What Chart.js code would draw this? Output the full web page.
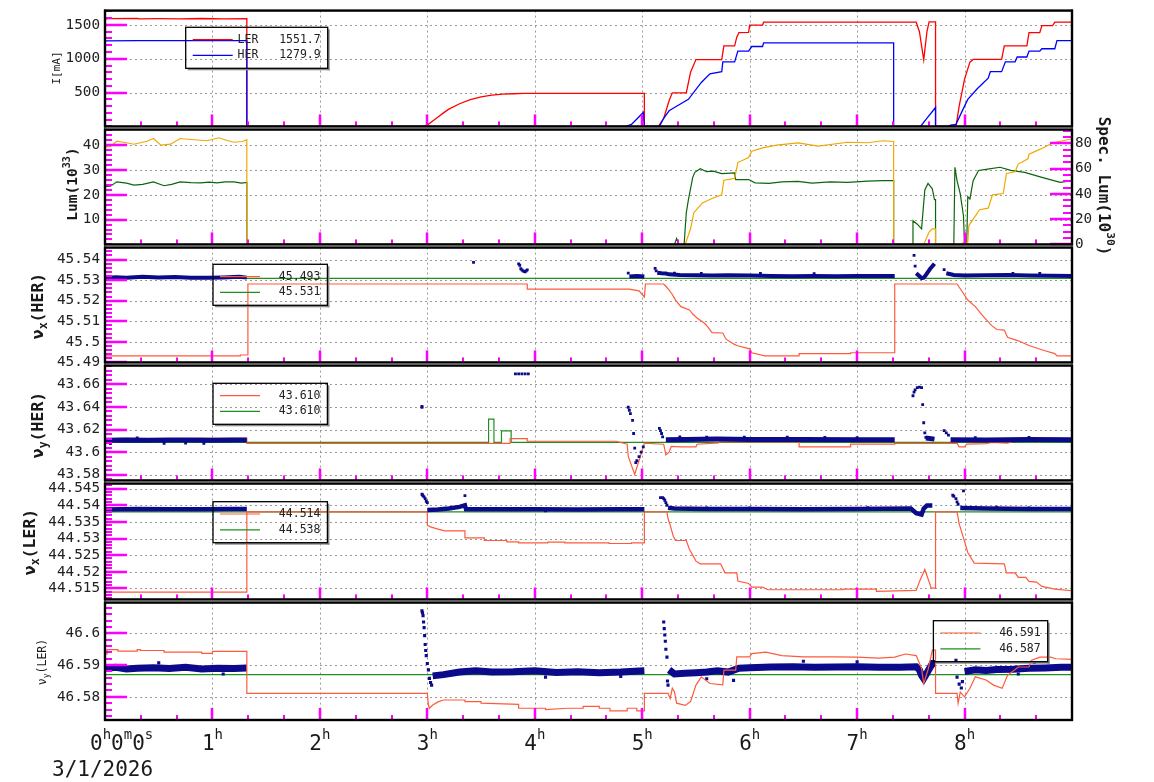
<!DOCTYPE html>
<html><head><meta charset="utf-8">
<script src="https://cdn.jsdelivr.net/npm/chart.js@4.4.1/dist/chart.umd.min.js"></script>
<style>
html,body{margin:0;padding:0;background:#fff;width:1154px;height:782px;overflow:hidden;}
canvas{position:absolute;left:0;}
#ov{top:0;pointer-events:none;}
</style></head><body>
<canvas id="c1"></canvas><canvas id="c2"></canvas><canvas id="c3"></canvas>
<canvas id="c4"></canvas><canvas id="c5"></canvas><canvas id="c6"></canvas>
<canvas id="ov" width="1154" height="782"></canvas>
<script>
// ================= DATA (time in hours, value) =================
const lerCurrent = [[0,1585],[0.03,1594],[0.3,1595],[0.32,1588],[0.5,1592],[0.7,1590],[0.9,1595],[1.1,1590],[1.32,1592],[1.32,0],[2.96,0],[3.0,20],[3.05,80],[3.1,140],[3.15,200],[3.2,255],[3.3,335],[3.4,395],[3.5,437],[3.6,462],[3.7,476],[3.8,483],[3.9,487],[4.2,488],[5.02,488],[5.02,0],[5.15,0],[5.2,120],[5.25,380],[5.28,497],[5.41,497],[5.45,800],[5.5,988],[5.74,988],[5.76,1190],[5.86,1190],[5.88,1320],[5.9,1387],[5.99,1390],[6.0,1498],[6.12,1498],[6.13,1540],[7.55,1540],[7.58,1400],[7.62,985],[7.65,1400],[7.67,1545],[7.73,1545],[7.73,0],[7.92,0],[7.95,300],[8.0,700],[8.05,950],[8.08,990],[8.345,990],[8.37,1190],[8.58,1190],[8.6,1387],[8.7,1387],[8.72,1490],[8.82,1490],[8.84,1540],[9.0,1540]];
const herCurrent = [[0,1265],[0.3,1268],[0.6,1267],[1.0,1268],[1.32,1267],[1.32,0],[4.85,0],[4.9,30],[4.95,110],[5.0,190],[5.01,208],[5.02,0],[5.16,0],[5.2,120],[5.25,231],[5.3,280],[5.43,400],[5.55,650],[5.63,776],[5.74,809],[5.75,954],[5.86,954],[5.89,1113],[5.99,1113],[6.02,1181],[6.12,1181],[6.13,1234],[7.34,1234],[7.34,0],[7.59,0],[7.66,140],[7.73,280],[7.73,0],[7.85,0],[7.87,20],[7.92,30],[7.97,200],[8.03,400],[8.12,560],[8.22,713],[8.24,809],[8.345,809],[8.38,954],[8.47,954],[8.49,1026],[8.58,1026],[8.6,1113],[8.7,1113],[8.72,1148],[8.84,1148],[8.86,1267],[9.0,1267]];
const lumValues = [[0,39.2],[0.05,39.5],[0.11,41.6],[0.2,41],[0.27,40.4],[0.33,41],[0.39,41.6],[0.45,42.7],[0.52,40],[0.61,40.4],[0.7,42.7],[0.83,42.2],[0.95,41.8],[1.06,43],[1.13,42],[1.2,41.2],[1.28,41.5],[1.32,42.2],[1.32,0],[5.4,0],[5.45,6.3],[5.48,12.8],[5.56,16.7],[5.66,18.7],[5.74,20],[5.76,25.9],[5.86,26.6],[5.89,33],[5.99,35],[6.02,37.6],[6.12,38.9],[6.25,40],[6.45,40.9],[6.64,39.6],[6.91,41.2],[7.1,41],[7.24,41.8],[7.34,41.5],[7.34,0],[7.62,0],[7.67,5],[7.7,6.3],[7.73,6.3],[7.73,0],[7.97,0],[7.99,0.8],[8.03,0.8],[8.04,7.6],[8.14,14],[8.22,14.6],[8.26,20],[8.36,20.5],[8.39,28.6],[8.47,29.3],[8.5,32.4],[8.59,34.5],[8.6,36.4],[8.7,38.3],[8.82,40.9],[9.0,42.6]];
const specLumValues = [[0,45.6],[0.05,46],[0.11,49.5],[0.2,48.5],[0.27,46.9],[0.35,47.5],[0.45,49.5],[0.55,46.4],[0.62,47.5],[0.7,49.5],[0.8,48.8],[0.89,48.7],[0.97,49.2],[1.04,48.7],[1.12,49.5],[1.2,49.5],[1.27,48.5],[1.32,49],[1.32,0],[5.3,0],[5.32,4.6],[5.34,0],[5.39,0],[5.41,25],[5.43,35.4],[5.47,53],[5.49,57],[5.54,59.8],[5.6,57.5],[5.66,58],[5.74,56],[5.86,56.5],[5.87,51.3],[5.99,51.3],[6.05,48.7],[6.18,48.2],[6.3,49.5],[6.45,49.9],[6.58,48.5],[6.75,49.5],[6.91,49],[7.1,50],[7.24,50.4],[7.34,50.4],[7.34,0],[7.52,0],[7.52,18.7],[7.56,16],[7.6,12.3],[7.63,43],[7.66,48.2],[7.7,44],[7.72,35.4],[7.73,35.4],[7.73,0],[7.9,0],[7.91,61],[7.93,50.4],[7.96,40],[7.99,22.5],[8.0,0],[8.02,0],[8.03,37.7],[8.05,36],[8.08,50.4],[8.13,58.5],[8.23,59.8],[8.33,61],[8.43,58.5],[8.56,57],[8.72,53],[8.89,49],[9.0,50.4]];
const nuxHerSet = [[0,45.5308],[9,45.5308]];
const nuxHerRed = [[0,45.4932],[1.26,45.4932],[1.26,45.4936],[1.33,45.4936],[1.33,45.5281],[3.93,45.5281],[3.93,45.5256],[4.88,45.5256],[4.97,45.5248],[5.02,45.5218],[5.03,45.5281],[5.2,45.5281],[5.22,45.527],[5.24,45.5258],[5.28,45.523],[5.31,45.5203],[5.36,45.5171],[5.44,45.5155],[5.47,45.5135],[5.51,45.5116],[5.58,45.509],[5.61,45.5073],[5.65,45.5045],[5.75,45.5043],[5.78,45.5013],[5.85,45.499],[5.88,45.4982],[6.0,45.4966],[6.02,45.4947],[6.14,45.4932],[6.46,45.4932],[6.46,45.4943],[6.94,45.4943],[6.94,45.4947],[7.35,45.4947],[7.35,45.5281],[7.93,45.5281],[7.96,45.5258],[8.03,45.5203],[8.1,45.5171],[8.16,45.5132],[8.25,45.508],[8.3,45.506],[8.37,45.5057],[8.4,45.5022],[8.5,45.5005],[8.6,45.4982],[8.74,45.4958],[8.84,45.4943],[8.86,45.4932],[9.0,45.4932]];
const nuxHerBand = [
  [[0,45.531],[0.1,45.5314],[0.2,45.5312],[0.35,45.5316],[0.5,45.5313],[0.65,45.5315],[0.8,45.5312],[0.95,45.5311],[1.1,45.5313],[1.25,45.5316],[1.32,45.5312]],
  [[4.88,45.5318],[4.95,45.532],[5.02,45.5318]],
  [[5.14,45.5336],[5.18,45.5333],[5.22,45.5332],[5.25,45.5328],[5.35,45.5325],[5.5,45.5323],[5.65,45.5322],[5.8,45.5323],[6.0,45.5322],[6.2,45.532],[6.4,45.5319],[6.6,45.532],[6.8,45.5319],[7.0,45.532],[7.2,45.532],[7.35,45.532]],
  [[7.55,45.5333],[7.6,45.531],[7.62,45.5312],[7.64,45.5325],[7.66,45.534],[7.68,45.5355],[7.7,45.5367],[7.72,45.538]],
  [[7.83,45.5333],[7.9,45.5325],[8.0,45.5322],[8.2,45.5323],[8.4,45.5325],[8.6,45.5322],[8.8,45.5321],[9.0,45.532]]
];
const nuxHerDots = [[3.43,45.5386],[3.85,45.5379],[3.86,45.5372],[3.87,45.5355],[3.88,45.535],[3.89,45.5345],[3.9,45.5342],[3.91,45.534],[3.92,45.5345],[3.93,45.535],[4.87,45.5334],[5.12,45.5357],[5.13,45.5345],[7.53,45.542],[7.54,45.5368],[7.81,45.5351],[5.3,45.5334],[5.55,45.5333],[6.1,45.5333],[6.6,45.5331],[8.45,45.5333],[8.7,45.5332]];
const nuyHerSet = [[0,43.6087],[3.57,43.6087],[3.57,43.6292],[3.62,43.6292],[3.62,43.6087],[3.69,43.6087],[3.69,43.6188],[3.78,43.6188],[3.78,43.6087],[9,43.6087]];
const nuyHerRed = [[0,43.6087],[0.11,43.6087],[0.11,43.6122],[0.31,43.6122],[0.31,43.611],[0.85,43.611],[0.85,43.6122],[1.32,43.6122],[1.32,43.6078],[3.77,43.6078],[3.77,43.612],[3.93,43.612],[3.93,43.6096],[4.76,43.6096],[4.8,43.6085],[4.86,43.607],[4.87,43.5962],[4.93,43.5803],[4.98,43.5955],[5.02,43.608],[5.2,43.607],[5.22,43.5975],[5.25,43.6],[5.27,43.605],[5.36,43.6046],[5.5,43.6046],[5.51,43.607],[5.71,43.6082],[5.72,43.609],[6.46,43.609],[6.46,43.6046],[6.94,43.6046],[6.94,43.607],[7.35,43.607],[7.35,43.6078],[7.93,43.6078],[7.95,43.6046],[8.0,43.6046],[8.02,43.607],[8.2,43.6075],[8.25,43.6085],[8.4,43.608],[8.45,43.6095],[8.55,43.6095],[8.6,43.6105],[8.7,43.609],[8.75,43.611],[8.85,43.61],[8.9,43.6105],[9,43.6095]];
const nuyHerBand = [
  [[0,43.6105],[0.2,43.6108],[0.4,43.6106],[0.6,43.6108],[0.8,43.6107],[1.0,43.6106],[1.2,43.6108],[1.32,43.6108]],
  [[5.22,43.611],[5.4,43.6112],[5.7,43.6115],[6.0,43.6112],[6.5,43.6112],[7.0,43.611],[7.35,43.611]],
  [[7.64,43.6125],[7.72,43.6115]],
  [[7.87,43.611],[8.2,43.6108],[8.6,43.6112],[9.0,43.611]]
];
const nuyHerDots = [[0.05,43.6075],[0.3,43.6125],[0.55,43.6078],[0.75,43.608],[0.92,43.6078],[2.95,43.6403],[2.95,43.6395],[3.82,43.6692],[3.85,43.6692],[3.88,43.6692],[3.91,43.6692],[3.94,43.6692],[4.87,43.6397],[4.88,43.637],[4.89,43.634],[4.91,43.628],[4.92,43.6165],[4.93,43.6035],[4.94,43.5907],[4.95,43.5925],[4.97,43.596],[4.99,43.6],[5.01,43.6046],[5.16,43.621],[5.17,43.619],[5.18,43.6165],[5.19,43.6135],[7.52,43.6498],[7.53,43.653],[7.54,43.655],[7.56,43.657],[7.58,43.6575],[7.6,43.657],[7.61,43.642],[7.62,43.626],[7.63,43.617],[7.64,43.613],[7.81,43.619],[7.83,43.617],[7.85,43.615],[5.35,43.6135],[5.6,43.6132],[5.95,43.6133],[6.35,43.6132],[6.7,43.613],[7.0,43.6128],[8.1,43.6128],[8.6,43.613]];
const nuxLerSet = [[0,44.538],[9,44.538]];
const nuxLerRed = [[0,44.5139],[1.32,44.5139],[1.32,44.538],[3.0,44.538],[3.0,44.534],[3.03,44.5335],[3.1,44.5328],[3.16,44.5323],[3.35,44.5323],[3.35,44.5302],[3.53,44.5302],[3.53,44.5294],[3.74,44.5294],[3.74,44.529],[3.85,44.529],[3.85,44.5287],[4.12,44.5287],[4.12,44.5289],[4.28,44.5289],[4.28,44.5287],[4.69,44.5287],[4.69,44.5285],[4.9,44.5285],[4.9,44.5287],[5.02,44.5287],[5.02,44.538],[5.23,44.538],[5.24,44.536],[5.26,44.534],[5.29,44.5306],[5.31,44.5294],[5.41,44.5294],[5.44,44.5267],[5.47,44.525],[5.5,44.5232],[5.54,44.5224],[5.73,44.5224],[5.77,44.5197],[5.88,44.5197],[5.89,44.5172],[5.99,44.5165],[6.02,44.5154],[6.12,44.5154],[6.17,44.5146],[6.87,44.5146],[6.87,44.5148],[7.18,44.5148],[7.18,44.5141],[7.55,44.5144],[7.58,44.517],[7.63,44.5207],[7.67,44.517],[7.69,44.5151],[7.73,44.5151],[7.73,44.538],[7.93,44.538],[7.95,44.5344],[7.99,44.5302],[8.03,44.5258],[8.09,44.5226],[8.37,44.5224],[8.39,44.5197],[8.47,44.5197],[8.5,44.5183],[8.57,44.5183],[8.6,44.5171],[8.67,44.5169],[8.72,44.5156],[8.84,44.5148],[9.0,44.5143]];
const nuxLerBand = [
  [[0,44.5387],[0.3,44.5389],[0.6,44.5388],[0.9,44.5388],[1.2,44.5389],[1.32,44.5389]],
  [[3.0,44.5386],[3.1,44.5387],[3.2,44.539],[3.3,44.5395],[3.35,44.54],[3.36,44.5388],[3.6,44.5388],[4.0,44.5388],[4.4,44.5387],[4.8,44.5388],[5.02,44.5388]],
  [[5.24,44.5392],[5.3,44.539],[5.6,44.5389],[6.0,44.5389],[6.5,44.5388],[7.0,44.5389],[7.5,44.539],[7.55,44.5376],[7.6,44.5372],[7.62,44.539],[7.65,44.5399],[7.7,44.5399]],
  [[7.96,44.5392],[8.2,44.539],[8.6,44.5389],[9.0,44.5389]]
];
const nuxLerDots = [[2.95,44.5433],[2.955,44.5431],[2.96,44.5428],[2.97,44.5425],[2.98,44.542],[2.99,44.5412],[3.0,44.5408],[3.35,44.5429],[5.17,44.5423],[5.19,44.5423],[5.2,44.542],[5.21,44.5415],[5.22,44.5408],[5.23,44.54],[7.89,44.543],[7.9,44.5427],[7.92,44.542],[7.93,44.541],[7.94,44.5403],[7.99,44.5443],[4.1,44.5383],[5.6,44.5392],[6.0,44.5392],[7.1,44.5393],[8.3,44.5394],[8.6,44.5392]];
const nuyLerSet = [[0,46.587],[9,46.587]];
const nuyLerRed = [[0,46.5935],[0.02,46.5935],[0.02,46.5949],[0.12,46.5949],[0.12,46.5944],[0.3,46.5944],[0.3,46.5949],[0.33,46.5949],[0.33,46.5946],[0.55,46.5946],[0.55,46.5941],[0.9,46.5941],[0.9,46.5937],[1.0,46.5937],[1.0,46.5943],[1.32,46.5943],[1.32,46.5811],[3.0,46.5811],[3.01,46.5775],[3.02,46.5764],[3.05,46.5774],[3.1,46.5784],[3.15,46.579],[3.35,46.579],[3.35,46.5785],[3.5,46.5785],[3.5,46.578],[3.85,46.5776],[3.85,46.5764],[4.1,46.5764],[4.1,46.576],[4.3,46.5764],[4.45,46.5764],[4.45,46.577],[4.6,46.577],[4.6,46.5764],[4.7,46.5764],[4.7,46.5756],[4.86,46.5756],[4.86,46.5764],[4.95,46.5764],[4.95,46.5756],[5.02,46.5756],[5.02,46.5811],[5.24,46.5811],[5.26,46.5795],[5.28,46.5827],[5.3,46.5815],[5.32,46.578],[5.4,46.5773],[5.45,46.5785],[5.5,46.5837],[5.55,46.5863],[5.58,46.5855],[5.63,46.5842],[5.75,46.5838],[5.76,46.5884],[5.87,46.5884],[5.88,46.5926],[6.0,46.5926],[6.02,46.5936],[6.15,46.5941],[6.3,46.593],[6.5,46.5926],[6.8,46.5926],[7.0,46.5925],[7.2,46.5922],[7.35,46.5925],[7.45,46.5935],[7.55,46.593],[7.6,46.5889],[7.62,46.5842],[7.66,46.5885],[7.7,46.5947],[7.73,46.5947],[7.73,46.5811],[7.93,46.5811],[7.94,46.578],[7.96,46.5815],[8.0,46.58],[8.05,46.5827],[8.1,46.5863],[8.2,46.5853],[8.27,46.5837],[8.35,46.5827],[8.4,46.5868],[8.5,46.5894],[8.6,46.5894],[8.62,46.5915],[8.7,46.5925],[8.8,46.5925],[8.85,46.592],[9.0,46.5918]];
const nuyLerBand = [
  [[0,46.5889],[0.1,46.5893],[0.2,46.5888],[0.3,46.589],[0.45,46.5892],[0.6,46.5889],[0.75,46.5893],[0.9,46.5888],[1.05,46.589],[1.2,46.5889],[1.32,46.5891]],
  [[3.05,46.5866],[3.15,46.587],[3.3,46.5878],[3.45,46.5882],[3.6,46.5878],[3.8,46.5879],[4.0,46.5882],[4.2,46.5877],[4.4,46.5879],[4.6,46.5876],[4.8,46.5878],[5.02,46.5882]],
  [[5.25,46.5885],[5.3,46.5872],[5.4,46.5874],[5.5,46.5876],[5.6,46.5878],[5.7,46.5882],[5.8,46.5878],[5.9,46.589],[6.0,46.5892],[6.2,46.5894],[6.4,46.5895],[6.6,46.5893],[6.8,46.5894],[7.0,46.5895],[7.2,46.5893],[7.4,46.5893],[7.55,46.5895],[7.58,46.5885],[7.6,46.5868],[7.62,46.5858],[7.65,46.5875],[7.7,46.5905],[7.73,46.5905]],
  [[8.0,46.588],[8.1,46.5885],[8.2,46.5883],[8.3,46.5886],[8.45,46.5887],[8.6,46.589],[8.75,46.5891],[8.9,46.5893],[9.0,46.5893]]
];
const nuyLerDots = [[2.95,46.6071],[2.955,46.6065],[2.96,46.6056],[2.965,46.6036],[2.97,46.6018],[2.975,46.5993],[2.98,46.5965],[2.985,46.5946],[2.99,46.593],[3.0,46.5905],[3.01,46.5885],[3.02,46.5858],[3.03,46.5845],[3.04,46.5837],[5.2,46.6036],[5.205,46.6015],[5.21,46.5995],[5.215,46.5975],[5.22,46.595],[5.23,46.5925],[5.235,46.585],[5.24,46.5837],[7.92,46.5915],[7.93,46.5862],[7.95,46.584],[7.97,46.5828],[7.98,46.5848],[4.1,46.5862],[4.8,46.5864],[5.85,46.5852],[5.6,46.5857],[7.0,46.591],[6.5,46.5912],[8.5,46.5872],[8.65,46.5908],[0.5,46.5907],[1.1,46.5872]];
// Tick labels
const hourTicks = [0,1,2,3,4,5,6,7,8];
const curTicks = [500,1000,1500];
const lumTicks = [10,20,30,40];
const specTicks = [0,20,40,60,80];
const nuxHerTicks = [45.49,45.5,45.51,45.52,45.53,45.54];
const nuyHerTicks = [43.58,43.6,43.62,43.64,43.66];
const nuxLerTicks = [44.515,44.52,44.525,44.53,44.535,44.54,44.545];
const nuyLerTicks = [46.58,46.59,46.6];
const dateLabel = '3/1/2026';

// ================= RENDERING =================
const W = 1154, LEFT = 105, RIGHT = 1072, PAD = 12;
const MONO = '"DejaVu Sans Mono","Liberation Mono",monospace';
const C = {ler:'#ff0000', her:'#0000ff', lum:'#f0a800', spec:'#0b650b', red:'#ff5a3c', green:'#1f8f1f', navy:'#0a0a8a'};
const TICK = '#ff00ff'; // temporary diagnostic colour for tick marks

const pts = a => a.map(p => ({x:p[0], y:p[1]}));
function bandPts(segs){ const out=[]; segs.forEach((s,i)=>{ if(i>0) out.push({x:s[0][0], y:null}); s.forEach(p=>out.push({x:p[0],y:p[1]})); }); return out; }
const lineDs = (data,color,w,axis) => ({data, borderColor:color, backgroundColor:color, borderWidth:w, showLine:true, pointRadius:0, spanGaps:false, yAxisID:axis||'y'});
const dotDs = (data,color,r) => ({data, showLine:false, pointStyle:'rect', pointRadius:r, backgroundColor:color, borderWidth:0, yAxisID:'y'});
const fmt = v => String(parseFloat(Number(v).toFixed(4)));

function drawRich(ctx, parts, x, y, rot, size, weight){
  ctx.save(); ctx.translate(x,y); ctx.rotate(rot);
  const f = (s)=> (weight||'normal')+' '+s+'px '+MONO;
  let total=0; const ws=[];
  parts.forEach(p=>{ ctx.font=f(p.s? size*0.7:size); const w=ctx.measureText(p.t).width; ws.push(w); total+=w; });
  let cx=-total/2; ctx.textBaseline='middle'; ctx.textAlign='left'; ctx.fillStyle='#1a1a1a';
  parts.forEach((p,i)=>{ ctx.font=f(p.s? size*0.7:size); const dy = p.s===1? -size*0.42 : (p.s===-1? size*0.3 : 0); ctx.fillText(p.t,cx,dy); cx+=ws[i]; });
  ctx.restore();
}

function drawLegend(ctx, box){
  const x=box.x, y=box.y, w=box.w, h=41;
  ctx.save();
  ctx.fillStyle='#8a8a8a'; ctx.fillRect(x+2,y+h,w,2); ctx.fillRect(x+w,y+2,2,h);
  ctx.strokeStyle='#000'; ctx.lineWidth=1.3; ctx.strokeRect(x,y,w,h);
  ctx.font='11.5px '+MONO; ctx.textAlign='right'; ctx.textBaseline='middle';
  box.rows.forEach((r,i)=>{ const ry=y+12.3+i*15.8; ctx.strokeStyle=r.c; ctx.lineWidth=1.2; ctx.beginPath(); ctx.moveTo(x+7,ry); ctx.lineTo(x+47,ry); ctx.stroke(); ctx.fillStyle='#222'; ctx.fillText(r.t, x+w-7, ry); });
  ctx.restore();
}

function gridPlugin(o){
  return {
    id:'grid'+o.id,
    beforeDatasetsDraw(chart){
      const {ctx, chartArea:a, scales} = chart;
      ctx.save(); ctx.strokeStyle='#9a9a9a'; ctx.lineWidth=1; ctx.setLineDash([2,3]); ctx.beginPath();
      hourTicks.forEach(h=>{ if(h<=0) return; const x=Math.round(scales.x.getPixelForValue(h))+0.5; ctx.moveTo(x,a.top); ctx.lineTo(x,a.bottom); });
      o.y.ticks.forEach(v=>{ const y=Math.round(scales.y.getPixelForValue(v))+0.5; if(y<=a.top+2||y>=a.bottom-2) return; ctx.moveTo(a.left,y); ctx.lineTo(a.right,y); });
      ctx.stroke(); ctx.restore();
    }
  };
}

function yScale(c,pos){
  return {type:'linear', position:pos, min:c.min, max:c.max,
    afterBuildTicks:s=>{ s.ticks=c.ticks.map(v=>({value:v})); },
    afterFit:s=>{ s.width = pos==='left'?LEFT:(W-RIGHT); },
    ticks:{autoSkip:false, font:{family:MONO,size:14.3}, color:'#222', padding:pos==='left'?5:3, callback:v=>fmt(v)},
    grid:{display:false, drawTicks:false, tickLength:0}, border:{display:false}};
}

const panels = [];
function makePanel(o){
  const cv=document.getElementById(o.id);
  const extra=o.xLabels?62:0;
  const h=(o.bottom-o.top)+2*PAD+extra;
  const off=o.top-PAD;
  cv.width=W; cv.height=h; cv.style.width=W+'px'; cv.style.height=h+'px'; cv.style.top=off+'px';
  const scales={ x:{type:'linear',min:0,max:9,ticks:{display:false},grid:{display:false,drawTicks:false},border:{display:false},afterFit:s=>{s.height=0;}}, y:yScale(o.y,'left') };
  if(o.y2) scales.y2=yScale(o.y2,'right');
  const chart=new Chart(cv,{type:'scatter',data:{datasets:o.datasets},
    options:{responsive:false,animation:false,events:[],layout:{padding:{top:PAD,bottom:PAD+extra,left:0,right:o.y2?0:(W-RIGHT)}},
      plugins:{legend:{display:false},tooltip:{enabled:false}},scales},
    plugins:[gridPlugin(o)]});
  panels.push({o,chart,off});
}

const nu = (sub,tail)=>[{t:'ν'},{t:sub,s:-1},{t:tail}];

makePanel({id:'c1', top:9, bottom:128,
  y:{min:0,max:1712,ticks:curTicks,minor:100},
  datasets:[lineDs(pts(herCurrent),C.her,1.3), lineDs(pts(lerCurrent),C.ler,1.3)],
  legend:{x:185.7,y:27.3,w:142,rows:[{c:C.ler,t:'LER   1551.7'},{c:C.her,t:'HER   1279.9'}]},
  titles:[{parts:[{t:'I[mA]'}],x:57,y:68,rot:-Math.PI/2,size:11,weight:'normal'}]});

makePanel({id:'c2', top:128, bottom:246,
  y:{min:0,max:46.3,ticks:lumTicks,minor:2},
  y2:{min:0,max:90.8,ticks:specTicks,minor:5},
  datasets:[lineDs(pts(lumValues),C.lum,1.2,'y'), lineDs(pts(specLumValues),C.spec,1.2,'y2')],
  titles:[{parts:[{t:'Lum(10'},{t:'33',s:1},{t:')'}],x:73,y:184,rot:-Math.PI/2,size:14.5,weight:'bold'},
          {parts:[{t:'Spec. Lum(10'},{t:'30',s:1},{t:')'}],x:1103,y:186,rot:Math.PI/2,size:16,weight:'bold'}]});

makePanel({id:'c3', top:246, bottom:364,
  y:{min:45.49,max:45.5458,ticks:nuxHerTicks,minor:0.002},
  datasets:[dotDs(pts(nuxHerDots),C.navy,2), lineDs(bandPts(nuxHerBand),C.navy,4), lineDs(pts(nuxHerRed),C.red,1.2), lineDs(pts(nuxHerSet),C.green,1.2)],
  legend:{x:213,y:264.3,w:114.4,rows:[{c:C.red,t:'45.493'},{c:C.green,t:'45.531'}]},
  titles:[{parts:nu('x','(HER)'),x:39,y:306,rot:-Math.PI/2,size:16.5,weight:'bold'}]});

makePanel({id:'c4', top:364, bottom:482,
  y:{min:43.575,max:43.6765,ticks:nuyHerTicks,minor:0.004},
  datasets:[dotDs(pts(nuyHerDots),C.navy,2), lineDs(bandPts(nuyHerBand),C.navy,5), lineDs(pts(nuyHerRed),C.red,1.2), lineDs(pts(nuyHerSet),C.green,1.2)],
  legend:{x:213,y:383.3,w:114.4,rows:[{c:C.red,t:'43.610'},{c:C.green,t:'43.610'}]},
  titles:[{parts:nu('y','(HER)'),x:39,y:425,rot:-Math.PI/2,size:16.5,weight:'bold'}]});

makePanel({id:'c5', top:482, bottom:601,
  y:{min:44.5117,max:44.5465,ticks:nuxLerTicks,minor:0.001},
  datasets:[dotDs(pts(nuxLerDots),C.navy,2), lineDs(bandPts(nuxLerBand),C.navy,4.5), lineDs(pts(nuxLerRed),C.red,1.2), lineDs(pts(nuxLerSet),C.green,1.2)],
  legend:{x:213,y:501.7,w:114.4,rows:[{c:C.red,t:'44.514'},{c:C.green,t:'44.538'}]},
  titles:[{parts:nu('x','(LER)'),x:31,y:542,rot:-Math.PI/2,size:16.5,weight:'bold'}]});

makePanel({id:'c6', top:601, bottom:720, xLabels:true,
  y:{min:46.5727,max:46.6097,ticks:nuyLerTicks,minor:0.002},
  datasets:[lineDs(pts(nuyLerRed),C.red,1.2), dotDs(pts(nuyLerDots),C.navy,2.2), lineDs(bandPts(nuyLerBand),C.navy,7), lineDs(pts(nuyLerSet),C.green,1.2)],
  legend:{x:933.4,y:620.7,w:114.3,rows:[{c:C.red,t:'46.591'},{c:C.green,t:'46.587'}]},
  titles:[{parts:nu('y','(LER)'),x:43,y:662,rot:-Math.PI/2,size:11.5,weight:'normal'}]});

// ---------- overlay: inward tick marks, frames, legends, titles, time labels ----------
(function drawOverlay(){
  const ov=document.getElementById('ov'); const ctx=ov.getContext('2d');
  panels.forEach(({o,chart,off})=>{
    const a=chart.chartArea, sx=chart.scales.x;
    const Lx=a.left, Rx=a.right, Ty=a.top+off, By=a.bottom+off;
    ctx.fillStyle=TICK;
    for(let k=1;k<27;k++){
      const x=Math.round(sx.getPixelForValue(k/3));
      if(k%3===0) ctx.fillRect(x-1.25,By-12,2.5,12); else ctx.fillRect(x-1,By-5,2,5);
    }
    [['y','l',o.y],['y2','r',o.y2]].forEach(([id,side,cfg])=>{
      const sc=chart.scales[id]; if(!cfg||!sc) return;
      const first=Math.ceil(cfg.min/cfg.minor-1e-6), last=Math.floor(cfg.max/cfg.minor+1e-6);
      for(let i=first;i<=last;i++){
        const v=i*cfg.minor; const maj=cfg.ticks.some(t=>Math.abs(t-v)<cfg.minor*0.01);
        const y=Math.round(sc.getPixelForValue(v))+off; const len=maj?22:(side==='r'?9:7); const th=maj?2.5:2;
        if(side==='l') ctx.fillRect(Lx,y-th/2,len,th); else ctx.fillRect(Rx-len,y-th/2,len,th);
      }
    });
    ctx.fillStyle='#000';
    ctx.fillRect(Lx-1,Ty-1.2,Rx-Lx+2,2.4); ctx.fillRect(Lx-1,By-1.2,Rx-Lx+2,2.4);
    ctx.fillRect(Lx-1.2,Ty-1,2.4,By-Ty+2); ctx.fillRect(Rx-1.2,Ty-1,2.4,By-Ty+2);
    if(o.legend) drawLegend(ctx,o.legend);
    (o.titles||[]).forEach(t=>drawRich(ctx,t.parts,t.x,t.y,t.rot,t.size,t.weight));
    if(o.xLabels){
      ctx.save(); ctx.fillStyle='#1a1a1a'; ctx.textBaseline='alphabetic'; ctx.textAlign='left';
      const big='21px '+MONO, sm='14px '+MONO; const base=750;
      const drawSeq=(seq,x0)=>{ let x=x0; seq.forEach(p=>{ ctx.font=p.s?sm:big; ctx.fillText(p.t,x,p.s?base-11:base); x+=ctx.measureText(p.t).width; }); };
      const seqW=seq=>seq.reduce((w,p)=>{ctx.font=p.s?sm:big; return w+ctx.measureText(p.t).width;},0);
      hourTicks.forEach(h=>{ if(h===0){ drawSeq([{t:'0'},{t:'h',s:1},{t:'0'},{t:'m',s:1},{t:'0'},{t:'s',s:1}],90); return; }
        const seq=[{t:String(h)},{t:'h',s:1}]; const x=sx.getPixelForValue(h); drawSeq(seq,x-seqW(seq)/2); });
      ctx.font=big; ctx.fillText(dateLabel,52,776);
      ctx.restore();
    }
  });
})();
</script>
</body></html>
